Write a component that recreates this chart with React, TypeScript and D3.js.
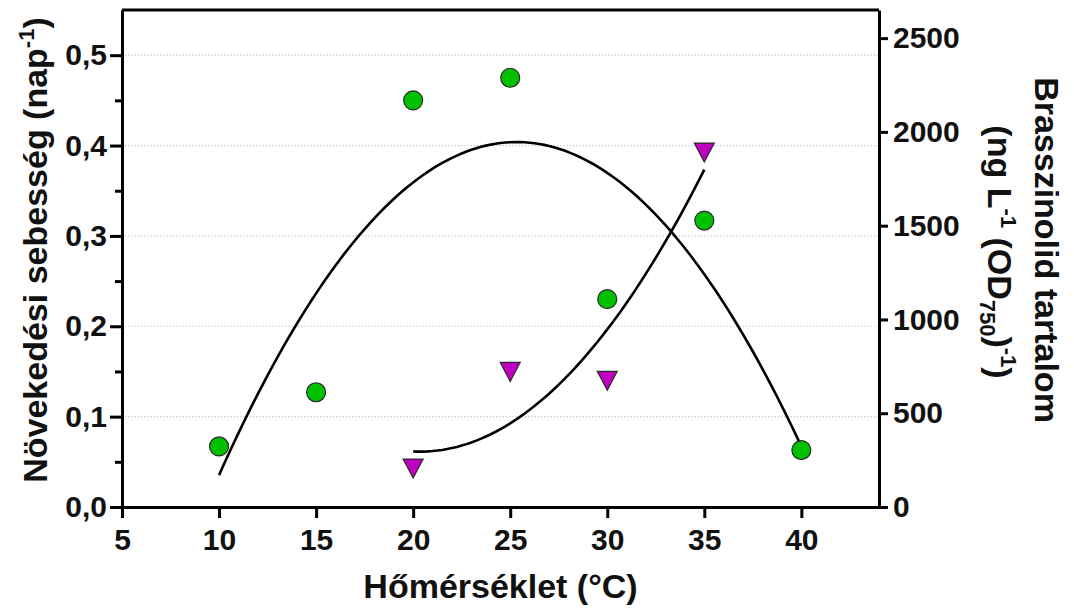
import React, { useEffect, useRef } from 'react';
import * as d3 from 'd3';

// growth rate (left axis), circles
const temps = [10, 15, 20, 25, 30, 35, 40];
const growthRate = [0.067, 0.127, 0.45, 0.475, 0.23, 0.317, 0.063];

// brassinolide content (right axis), triangles
const bsTemps = [20, 25, 30, 35];
const bsContent = [205, 720, 673, 1890];

const xTicks = [5, 10, 15, 20, 25, 30, 35, 40];
const leftTicks = [0, 0.1, 0.2, 0.3, 0.4, 0.5];
const leftMinorTicks = [0.05, 0.15, 0.25, 0.35, 0.45];
const rightTicks = [0, 500, 1000, 1500, 2000, 2500];

const FONT = '"Liberation Sans", Arial, Helvetica, sans-serif';
const TICK_FS = 30;
const TITLE_FS = 34;
const SUP_FS = 22;

// least squares quadratic fit: returns [c0, c1, c2]
function quadFit(xs: number[], ys: number[]): number[] {
  const S = (p: number) => d3.sum(xs, (x) => Math.pow(x, p));
  const T = (p: number) => d3.sum(xs, (x, i) => Math.pow(x, p) * ys[i]);
  const A = [
    [S(0), S(1), S(2), T(0)],
    [S(1), S(2), S(3), T(1)],
    [S(2), S(3), S(4), T(2)],
  ];
  for (let i = 0; i < 3; i++) {
    for (let k = i + 1; k < 3; k++) {
      const f = A[k][i] / A[i][i];
      for (let j = i; j < 4; j++) A[k][j] -= f * A[i][j];
    }
  }
  const c = [0, 0, 0];
  for (let i = 2; i >= 0; i--) {
    let s = A[i][3];
    for (let j = i + 1; j < 3; j++) s -= A[i][j] * c[j];
    c[i] = s / A[i][i];
  }
  return c;
}

const W = 1074;
const H = 610;
const margin = { top: 10, right: 195, bottom: 103, left: 122 };

const App: React.FC = () => {
  const svgRef = useRef<SVGSVGElement>(null);

  useEffect(() => {
    if (!svgRef.current) return;
    const svg = d3.select(svgRef.current);
    svg.selectAll('*').remove();

    const x0 = margin.left;
    const x1 = W - margin.right;
    const y0 = H - margin.bottom;
    const y1 = margin.top;

    const x = d3.scaleLinear().domain([5, 44]).range([x0, x1]);
    const yL = d3.scaleLinear().domain([0, 0.55]).range([y0, y1]);
    const yR = d3.scaleLinear().domain([0, 2650]).range([y0, y1]);

    const comma = d3.formatLocale({
      decimal: ',',
      thousands: ' ',
      grouping: [3],
      currency: ['', ''],
    }).format('.1f');

    // gridlines
    svg
      .append('g')
      .selectAll('line')
      .data(leftTicks.filter((d) => d > 0))
      .enter()
      .append('line')
      .attr('x1', x0)
      .attr('x2', x1)
      .attr('y1', (d) => yL(d))
      .attr('y2', (d) => yL(d))
      .attr('stroke', '#c4c4c4')
      .attr('stroke-width', 1.2)
      .attr('stroke-dasharray', '1.2,2');

    const styleAxis = (g: d3.Selection<SVGGElement, unknown, null, undefined>) => {
      g.selectAll('.domain').attr('stroke', '#000').attr('stroke-width', 3);
      g.selectAll('.tick line').attr('stroke', '#000').attr('stroke-width', 3);
      g.selectAll('.tick text')
        .attr('fill', '#111')
        .style('font-family', FONT)
        .style('font-weight', 'bold')
        .style('font-size', `${TICK_FS}px`);
    };

    // top frame
    svg
      .append('line')
      .attr('x1', x0)
      .attr('x2', x1)
      .attr('y1', y1)
      .attr('y2', y1)
      .attr('stroke', '#000')
      .attr('stroke-width', 3);

    // left minor ticks
    svg
      .append('g')
      .attr('transform', `translate(${x0},0)`)
      .call(d3.axisLeft(yL).tickValues(leftMinorTicks).tickSize(7).tickSizeOuter(0).tickFormat(() => ''))
      .call(styleAxis);

    // left axis
    svg
      .append('g')
      .attr('transform', `translate(${x0},0)`)
      .call(d3.axisLeft(yL).tickValues(leftTicks).tickSize(12).tickSizeOuter(0).tickPadding(3).tickFormat((d) => comma(d as number)))
      .call(styleAxis);

    // right axis
    svg
      .append('g')
      .attr('transform', `translate(${x1},0)`)
      .call(d3.axisRight(yR).tickValues(rightTicks).tickSize(9).tickSizeOuter(0).tickPadding(5).tickFormat(d3.format('d')))
      .call(styleAxis);

    // bottom axis
    svg
      .append('g')
      .attr('transform', `translate(0,${y0})`)
      .call(d3.axisBottom(x).tickValues(xTicks).tickSize(11).tickSizeOuter(0).tickPadding(11).tickFormat(d3.format('d')))
      .call(styleAxis);

    // fitted curves
    const cG = quadFit(temps, growthRate);
    const cB = quadFit(bsTemps, bsContent);
    const poly = (c: number[], t: number) => c[0] + c[1] * t + c[2] * t * t;

    const line = d3.line<[number, number]>().x((d) => d[0]).y((d) => d[1]);
    const gSteps = d3.range(10, 40.001, 0.25);
    const bSteps = d3.range(20, 35.001, 0.25);

    svg
      .append('path')
      .attr('d', line(gSteps.map((t) => [x(t), yL(poly(cG, t))])))
      .attr('fill', 'none')
      .attr('stroke', '#000')
      .attr('stroke-width', 2.6);

    svg
      .append('path')
      .attr('d', line(bSteps.map((t) => [x(t), yR(poly(cB, t))])))
      .attr('fill', 'none')
      .attr('stroke', '#000')
      .attr('stroke-width', 2.6);

    // circles
    svg
      .append('g')
      .selectAll('circle')
      .data(temps)
      .enter()
      .append('circle')
      .attr('cx', (d) => x(d))
      .attr('cy', (d, i) => yL(growthRate[i]))
      .attr('r', 9.5)
      .attr('fill', '#00c000')
      .attr('stroke', '#2a2a2a')
      .attr('stroke-width', 1.2);

    // inverted triangles
    svg
      .append('g')
      .selectAll('path')
      .data(bsTemps)
      .enter()
      .append('path')
      .attr('transform', (d, i) => `translate(${x(d)},${yR(bsContent[i])})`)
      .attr('d', 'M-10,-9.5L10,-9.5L0,9.5Z')
      .attr('fill', '#c000c0')
      .attr('stroke', '#2a2a2a')
      .attr('stroke-width', 1.2)
      .attr('stroke-linejoin', 'miter');

    // titles
    const title = (sel: d3.Selection<SVGTextElement, unknown, null, undefined>) =>
      sel
        .style('font-family', FONT)
        .style('font-weight', 'bold')
        .style('font-size', `${TITLE_FS}px`)
        .attr('fill', '#111')
        .attr('text-anchor', 'middle');

    svg
      .append('text')
      .attr('x', (x0 + x1) / 2)
      .attr('y', 598)
      .call(title)
      .text('Hőmérséklet (°C)');

    const lt = svg
      .append('text')
      .attr('transform', `translate(47,250) rotate(-90)`)
      .call(title);
    lt.append('tspan').text('Növekedési sebesség (nap');
    lt.append('tspan').attr('dy', -13).style('font-size', `${SUP_FS}px`).text('-1');
    lt.append('tspan').attr('dy', 13).text(')');

    svg
      .append('text')
      .attr('transform', `translate(1035,250) rotate(90)`)
      .call(title)
      .text('Brasszinolid tartalom');

    const rt = svg
      .append('text')
      .attr('transform', `translate(988,252) rotate(90)`)
      .call(title);
    rt.append('tspan').text('(ng L');
    rt.append('tspan').attr('dy', -13).style('font-size', `${SUP_FS}px`).text('-1');
    rt.append('tspan').attr('dy', 13).text(' (OD');
    rt.append('tspan').attr('dy', 8).style('font-size', `${SUP_FS}px`).text('750');
    rt.append('tspan').attr('dy', -8).text(')');
    rt.append('tspan').attr('dy', -13).style('font-size', `${SUP_FS}px`).text('-1');
    rt.append('tspan').attr('dy', 13).text(')');
  }, []);

  return (
    <>
      <style>{'body{margin:0;background:#fff}'}</style>
      <svg ref={svgRef} width={W} height={H} style={{ display: 'block' }} />
    </>
  );
};

export default App;
